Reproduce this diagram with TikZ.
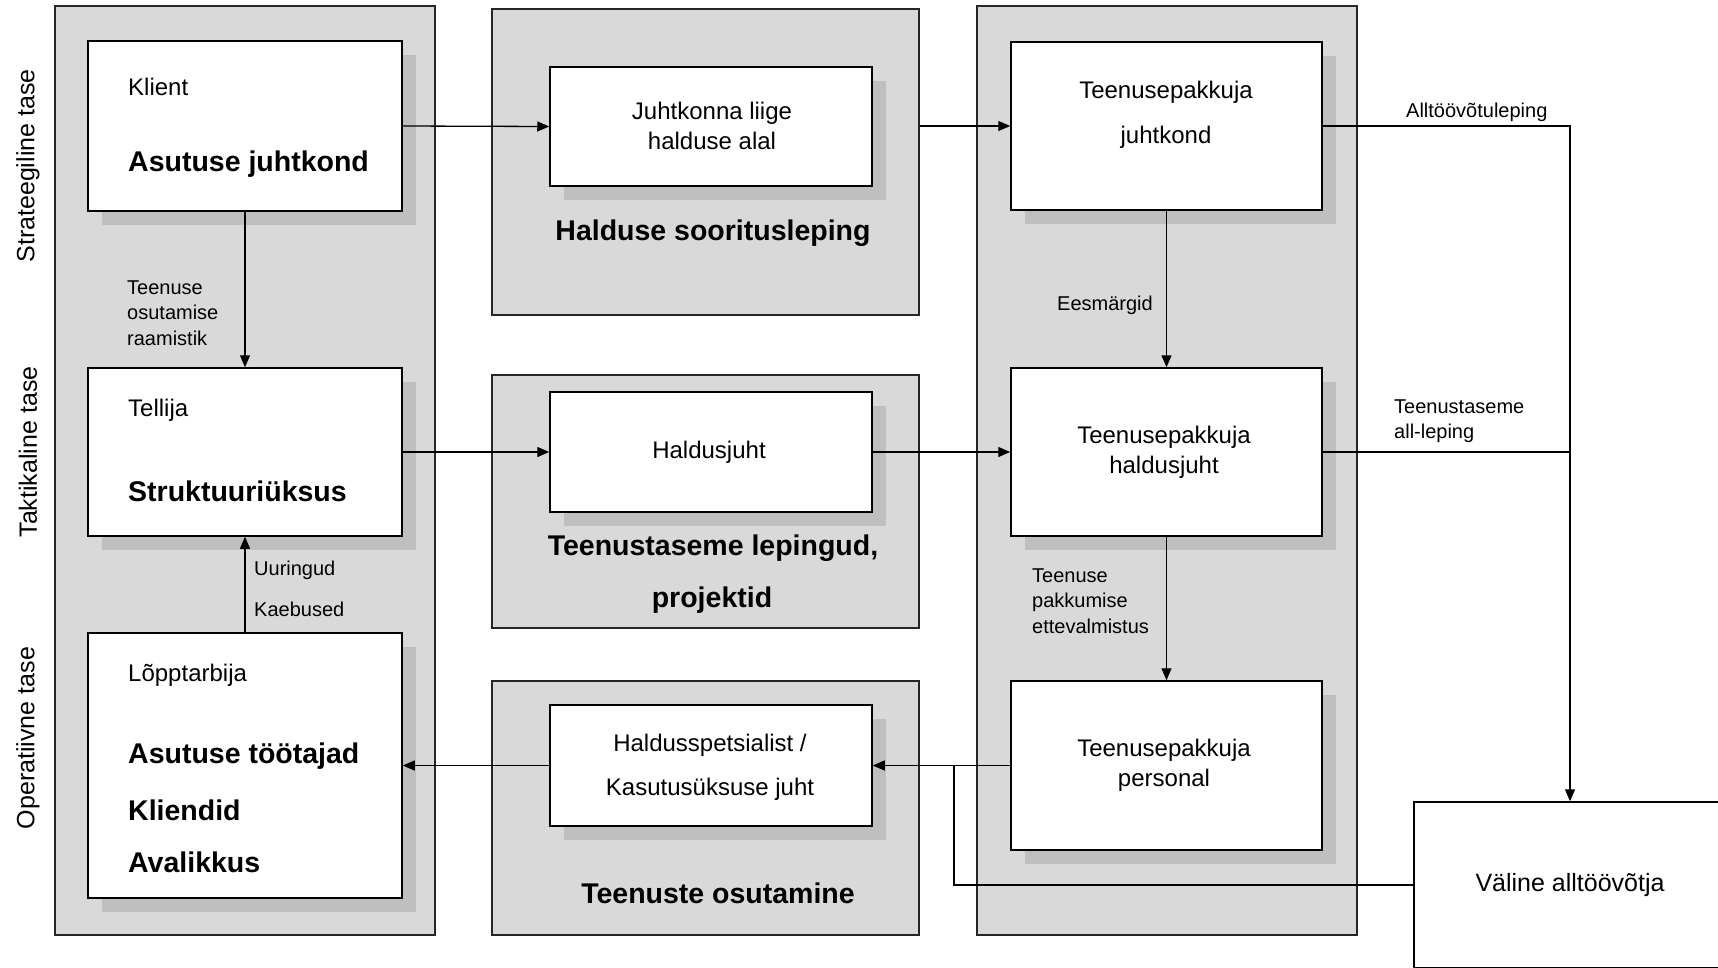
\documentclass[tikz,border=0pt]{standalone}
\usepackage{fontspec}
\setmainfont{Liberation Sans}
\usetikzlibrary{arrows.meta}
\tikzset{
  panel/.style={draw=black!85, line width=1.5pt, fill=black!15, inner sep=0},
  shadowbox/.style={fill=black!25, draw=none, inner sep=0},
  wbox/.style={draw=black, line width=1.5pt, fill=white, inner sep=0},
  arr/.style={-{Triangle[length=12pt,width=10pt]}, line width=1.3pt},
  conn/.style={line width=1.3pt},
  lbl/.style={font=\fontsize{20}{25.5}\selectfont, align=left, inner sep=0},
  btxt/.style={font=\fontsize{24}{30}\selectfont, align=center, inner sep=0},
  boldtxt/.style={font=\fontsize{28.5}{34}\selectfont\bfseries, align=center, inner sep=0},
  side/.style={font=\fontsize{25}{30}\selectfont, rotate=90, inner sep=0},
}
\newcommand\wb[5]{%
  \node[shadowbox, minimum width=#4, minimum height=#5] (#1-sh) at (#2+14,#3+14) {};
  \node[wbox, minimum width=#4, minimum height=#5] (#1) at (#2,#3) {};}
\begin{document}
\begin{tikzpicture}[x=1pt,y=-1pt]
\useasboundingbox (0,0) rectangle (1718,967);
\clip (0,0) rectangle (1718,967);
\fill[white] (0,0) rectangle (1718,967);
% panels
\node[panel, minimum width=380, minimum height=929] (pL) at (245,470.5) {};
\node[panel, minimum width=427, minimum height=306] (pM1) at (705.5,162) {};
\node[panel, minimum width=427, minimum height=253] (pM2) at (705.5,501.5) {};
\node[panel, minimum width=427, minimum height=254] (pM3) at (705.5,808) {};
\node[panel, minimum width=380, minimum height=929] (pR) at (1167,470.5) {};
% boxes
\wb{klient}{245}{126}{314}{170}
\wb{tellija}{245}{452}{314}{168}
\wb{lopp}{245}{765.5}{314}{265}
\wb{jliige}{711}{126.5}{322}{119}
\wb{hjuht}{711}{452}{322}{120}
\wb{hspets}{711}{765.5}{322}{121}
\wb{tpj}{1166.5}{126}{311}{168}
\wb{tph}{1166.5}{452}{311}{168}
\wb{tpp}{1166.5}{765.5}{311}{169}
\node[wbox, minimum width=312, minimum height=166, font=\fontsize{25}{30}\selectfont] (valine) at (1570,885) {Väline alltöövõtja};
% side labels
\node[side] (s1) at (28,166) {Strateegiline tase};
\node[side] (s2) at (28,452) {Taktikaline tase};
\node[side] (s3) at (28,738) {Operatiivne tase};
% box texts
\node[btxt, anchor=west] (tk) at (128,87) {Klient};
\node[boldtxt, anchor=west] (tasj) at (128,164) {Asutuse juhtkond};
\node[btxt, anchor=west] (tt) at (128,410) {Tellija};
\node[boldtxt, anchor=west] (tsu) at (128,491) {Struktuuriüksus};
\node[btxt, anchor=west] (tl) at (128,675) {Lõpptarbija};
\node[boldtxt, anchor=west] (tat) at (128,756) {Asutuse töötajad};
\node[boldtxt, anchor=west] (tkl) at (128,810) {Kliendid};
\node[boldtxt, anchor=west] (tav) at (128,862) {Avalikkus};
\node[btxt] (tjl) at (712,126) {Juhtkonna liige\\halduse alal};
\node[btxt] (thj) at (709,452) {Haldusjuht};
\node[btxt] (ths) at (710,767) {Haldusspetsialist /\\[14pt]Kasutusüksuse juht};
\node[btxt] (ttpj) at (1166,115) {Teenusepakkuja\\[15pt]juhtkond};
\node[btxt] (ttph) at (1164,452) {Teenusepakkuja\\haldusjuht};
\node[btxt] (ttpp) at (1164,765) {Teenusepakkuja\\personal};
\node[boldtxt] (thsl) at (713,233) {Halduse sooritusleping};
\node[boldtxt] (ttl) at (713,548) {Teenustaseme lepingud,};
\node[boldtxt] (tpr) at (712,600) {projektid};
\node[boldtxt] (tto) at (718,893) {Teenuste osutamine};
% connector labels
\node[lbl, anchor=west] (l1) at (127,313) {Teenuse\\osutamise\\raamistik};
\node[lbl, anchor=west] (l2) at (254,570) {Uuringud};
\node[lbl, anchor=west] (l3) at (254,609) {Kaebused};
\node[lbl, anchor=west] (l4) at (1057,305) {Eesmärgid};
\node[lbl, anchor=west] (l5) at (1032,601) {Teenuse\\pakkumise\\ettevalmistus};
\node[lbl, anchor=west] (l6) at (1406,112) {Alltöövõtuleping};
\node[lbl, anchor=west] (l7) at (1394,421) {Teenustaseme\\all-leping};
% connectors
\draw[arr] (klient.east) -- (jliige.west);
\draw[arr] (pM1.east |- tpj.west) -- (tpj.west);
\draw[arr] (tellija.east) -- (hjuht.west);
\draw[arr] (hjuht.east) -- (tph.west);
\draw[arr] (tpp.west) -- (hspets.east);
\draw[arr] (hspets.west) -- (lopp.east);
\draw[arr] (klient.south) -- (tellija.north);
\draw[arr] (lopp.north) -- (tellija.south);
\draw[arr] (tpj.south) -- (tph.north);
\draw[arr] (tph.south) -- (tpp.north);
\draw[arr] (tpj.east) -| (valine.north);
\draw[conn] (tph.east) -- (tph.east -| valine.north);
\coordinate (jn) at (954,765.5);
\draw[conn] (valine.west) -| (jn);
\end{tikzpicture}
\end{document}
